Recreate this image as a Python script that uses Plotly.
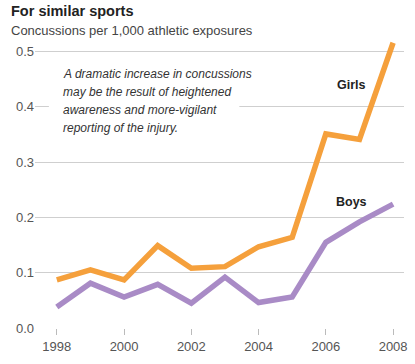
import plotly.graph_objects as go

years = [1998, 1999, 2000, 2001, 2002, 2003, 2004, 2005, 2006, 2007, 2008]
girls = [0.087, 0.105, 0.087, 0.149, 0.108, 0.111, 0.147, 0.164, 0.351, 0.341, 0.516]
boys = [0.038, 0.081, 0.056, 0.079, 0.045, 0.092, 0.046, 0.056, 0.155, 0.192, 0.224]
x_ticks = [1998, 2000, 2002, 2004, 2006, 2008]
y_ticks = [0.0, 0.1, 0.2, 0.3, 0.4, 0.5]
y_tick_text = ["0.0", "0.1", "0.2", "0.3", "0.4", "0.5"]

title = "For similar sports"
subtitle = "Concussions per 1,000 athletic exposures"
note_lines = [
    "A dramatic increase in concussions",
    "may be the result of heightened",
    "awareness and more-vigilant",
    "reporting of the injury.",
]

FONT = "Liberation Sans, Arial, sans-serif"
ORANGE = "#F5A03C"
PURPLE = "#A98BC6"

fig = go.Figure()
fig.add_trace(go.Scatter(x=years, y=girls, mode="lines", name="Girls",
                         line=dict(color=ORANGE, width=5.5), hoverinfo="skip", cliponaxis=False))
fig.add_trace(go.Scatter(x=years, y=boys, mode="lines", name="Boys",
                         line=dict(color=PURPLE, width=5.5), hoverinfo="skip", cliponaxis=False))

L, R, T, B = 35, 8, 35, 36
W, H = 415, 364
pw = W - L - R
ph = H - T - B


def px_x(px):
    return (px - L) / pw


def px_y(py):
    return (H - B - py) / ph


annotations = [
    dict(text="<b>" + title + "</b>", x=px_x(9), y=px_y(11), xref="paper", yref="paper",
         xanchor="left", yanchor="middle", showarrow=False,
         font=dict(family=FONT, size=14.5, color="#222")),
    dict(text=subtitle, x=px_x(9), y=px_y(30.5), xref="paper", yref="paper",
         xanchor="left", yanchor="middle", showarrow=False,
         font=dict(family=FONT, size=13, color="#444")),
]
for i, line in enumerate(note_lines):
    annotations.append(dict(text="<i>" + line + "</i>", x=px_x(61), y=px_y(74 + 18 * i),
                            xref="paper", yref="paper", xanchor="left", yanchor="middle",
                            showarrow=False, font=dict(family=FONT, size=12, color="#333")))
annotations.append(dict(text="<b>Girls</b>", x=px_x(354.5), y=px_y(85), xref="paper", yref="paper",
                        xanchor="center", yanchor="middle", showarrow=False,
                        font=dict(family=FONT, size=12.5, color="#222")))
annotations.append(dict(text="<b>Boys</b>", x=px_x(354), y=px_y(201.5), xref="paper", yref="paper",
                        xanchor="center", yanchor="middle", showarrow=False,
                        font=dict(family=FONT, size=12.5, color="#222")))

fig.update_layout(
    width=W, height=H,
    margin=dict(l=L, r=R, t=T, b=B),
    paper_bgcolor="white", plot_bgcolor="white",
    showlegend=False,
    font=dict(family=FONT, size=13, color="#555"),
    annotations=annotations,
    shapes=[dict(type="rect", xref="paper", yref="paper",
                 x0=px_x(49), x1=px_x(241), y0=px_y(118), y1=px_y(97),
                 fillcolor="white", line=dict(width=0), layer="above")],
    xaxis=dict(range=[1997.351, 2008.324], tickvals=x_ticks, ticktext=[str(t) for t in x_ticks],
               showgrid=False, zeroline=False, showline=False,
               ticks="outside", ticklen=6, tickcolor="#bbb", tickwidth=1,
               tickfont=dict(family=FONT, size=13, color="#555")),
    yaxis=dict(range=[0, 0.53], tickvals=y_ticks, ticktext=y_tick_text,
               showgrid=True, gridcolor="#cfcfcf", gridwidth=1, zeroline=False, showline=False,
               ticks="", tickfont=dict(family=FONT, size=13, color="#555")),
)

fig.write_html("out.html", config={"displayModeBar": False},
               post_script="document.body.style.margin='0';document.body.style.padding='0';")
